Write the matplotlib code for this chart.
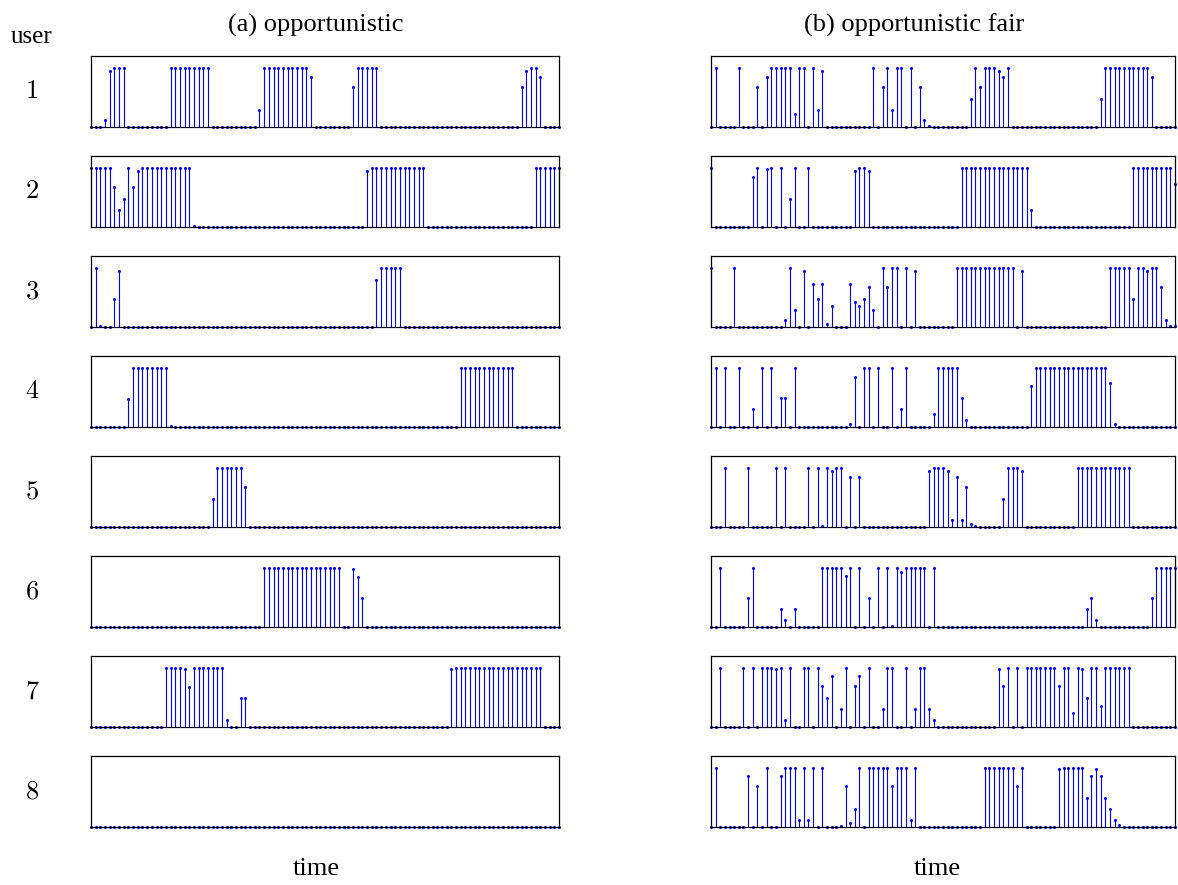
import matplotlib.pyplot as plt
import numpy as np

plt.rcParams['mathtext.fontset'] = 'cm'

# time slots 0..100, allocation per user as (first slot, values...) runs
t = np.arange(101)

opp_u1 = [(3, [0.13, 0.95, 1, 1, 1]),
          (17, [1, 1, 1, 1, 1, 1, 1, 1, 1]),
          (36, [0.29, 1, 1, 1, 1, 1, 1, 1, 1, 1, 1, 0.84]),
          (56, [0.68, 1, 1, 1, 1, 1]),
          (92, [0.68, 0.95, 1, 1, 0.84])]
opp_u2 = [(0, [1, 1, 1, 1, 1, 0.68, 0.29, 0.48, 1, 0.68, 0.95,
               1, 1, 1, 1, 1, 1, 1, 1, 1, 1, 1, 0.02]),
          (59, [0.95, 1, 1, 1, 1, 1, 1, 1, 1, 1, 1, 1, 1]),
          (95, [1, 1, 1, 1, 1, 1])]
opp_u3 = [(1, [1, 0.03]),
          (5, [0.48, 0.95]),
          (61, [0.8, 1, 1, 1, 1, 1])]
opp_u4 = [(8, [0.48, 1, 1, 1, 1, 1, 1, 1, 1, 0.03]),
          (79, [1, 1, 1, 1, 1, 1, 1, 1, 1, 1, 1, 1])]
opp_u5 = [(26, [0.48, 1, 1, 1, 1, 1, 1, 0.68])]
opp_u6 = [(37, [1, 1, 1, 1, 1, 1, 1, 1, 1, 1, 1, 1, 1, 1, 1, 1, 1]),
          (56, [0.97, 0.84, 0.49])]
opp_u7 = [(16, [1, 1, 1, 1, 0.97, 0.68, 1, 1, 1, 1, 1, 1, 1, 0.13]),
          (32, [0.49, 0.49]),
          (77, [0.97, 1, 1, 1, 1, 1, 1, 1, 1, 1, 1, 1, 1, 1, 1, 1, 1, 1, 1, 1])]
opp_u8 = []

fair_u1 = [(1, [1]), (6, [1]),
           (10, [0.68, 0, 0.84, 1, 1, 1, 1, 1, 0.23, 1, 1, 0, 1, 0.29, 0.95]),
           (35, [1, 0, 0.68, 1, 0.29, 1, 1, 0, 1, 0, 0.68, 0.12, 0.02]),
           (56, [0.48, 1, 0.68, 1, 1, 1, 0.95, 0.84, 1]),
           (84, [0.48, 1, 1, 1, 1, 1, 1, 1, 1, 1, 1, 0.84])]
fair_u2 = [(0, [1]),
           (9, [0.84, 1, 0, 0.98, 1, 0, 1, 0, 0.48, 1, 0, 0, 1]),
           (31, [0.95, 1, 1, 0.95]),
           (54, [1, 1, 1, 1, 1, 1, 1, 1, 1, 1, 1, 1, 1, 1, 1, 0.29]),
           (91, [1, 1, 1, 1, 1, 1, 1, 1, 1, 0.73])]
fair_u3 = [(0, [1]), (5, [1]),
           (16, [0.13, 1, 0.29, 0, 0.95, 0, 0.73, 0.48, 0.73, 0.06, 0.36]),
           (30, [0.73, 0.42, 0.36, 0.48, 0.68, 0.29, 0, 1, 0.68, 1, 1, 0, 1, 0, 0.95]),
           (53, [1, 1, 1, 1, 1, 1, 1, 1, 1, 1, 1, 1, 1]),
           (67, [0.95]),
           (86, [1, 1, 1, 1, 1, 0.48, 1, 1, 0.95, 1, 1, 0.68, 0.13, 0.03, 0.02])]
fair_u4 = [(1, [1]), (3, [1]), (6, [1]), (9, [0.3]), (11, [1]), (13, [1]),
           (15, [0.49, 0.49]), (18, [1]),
           (30, [0.06, 0.84, 0, 1, 1, 0, 1, 0, 0, 1, 0, 0.3, 1]),
           (48, [0.23, 1, 1, 1, 1, 1, 0.49, 0.13]),
           (69, [0.69, 1, 1, 1, 1, 1, 1, 1, 1, 1, 1, 1, 1, 1, 1, 1, 1, 0.74, 0.06])]
fair_u5 = [(3, [1]), (8, [1]), (14, [1]), (16, [1]), (21, [1]),
           (23, [1, 0.03, 1, 0.95, 1, 1, 0, 0.84, 0, 0.84]),
           (47, [0.95, 1, 1, 1, 0.95, 0.13, 0.84, 0.13, 0.68, 0.06, 0.02]),
           (63, [0.48, 1, 1, 1, 0.95]),
           (79, [1, 1, 1, 1, 1, 1, 1, 1, 1, 1, 1, 1])]
fair_u6 = [(2, [1]), (8, [0.49, 1]), (15, [0.3, 0.13, 0, 0.3]),
           (24, [1, 1, 1, 1, 1, 0.86, 1, 0, 1, 0, 0.49, 0, 1, 0, 1, 0.03,
                 1, 0.93, 1, 1, 1, 1, 1, 0, 1]),
           (81, [0.3, 0.49, 0.13]),
           (95, [0.49, 1, 1, 1, 1, 1])]
fair_u7 = [(2, [1]),
           (7, [1, 0, 1, 0, 1, 1, 1, 0.97, 1, 0.13, 1]),
           (20, [1, 1, 0, 1, 0.69, 0.49, 0.86, 0, 0.3, 1, 0, 0.69, 0.86, 0, 1,
                 0, 0, 0.3, 1, 1, 0, 0, 1, 0, 0.3, 1, 1, 0.3, 0.13]),
           (62, [0.97, 0.69, 1, 0, 1, 0, 1, 1, 1, 1, 1, 1, 1, 0.69, 1, 1, 0.24,
                 1, 0.97, 0.49, 1, 1, 0.36, 1, 1, 1, 1, 1, 1])]
fair_u8 = [(1, [1]),
           (8, [0.86, 0, 0.69, 0, 1, 0, 0, 0.86, 1, 1, 1, 0.13, 1, 0.13, 1, 0, 1]),
           (28, [0.03, 0.69, 0.07, 0.3, 1, 0, 1, 1, 1, 1, 1, 0.69, 1, 1, 1, 0.13, 1]),
           (59, [1, 1, 1, 1, 1, 1, 1, 0.69, 1]),
           (75, [0.97, 1, 1, 1, 1, 1, 0.49, 0.86, 0.97, 0.86, 0.49, 0.3, 0.13, 0.04])]

opp = [opp_u1, opp_u2, opp_u3, opp_u4, opp_u5, opp_u6, opp_u7, opp_u8]
fair = [fair_u1, fair_u2, fair_u3, fair_u4, fair_u5, fair_u6, fair_u7, fair_u8]
users = ['1', '2', '3', '4', '5', '6', '7', '8']


def expand(runs):
    y = np.zeros(len(t))
    for start, vals in runs:
        y[start:start + len(vals)] = vals
    return y


W, H = 1178, 885
fig = plt.figure(figsize=(W / 100, H / 100), dpi=100)

serif = 'Liberation Serif'
cols = [(91, 468), (711, 464)]
for i in range(8):
    top = 55.7 + 100 * i
    bot = 127.3 + 100 * i
    for c, data in enumerate([opp, fair]):
        x0, w = cols[c]
        ax = fig.add_axes([x0 / W, 1 - bot / H, w / W, (bot - top) / H])
        y = expand(data[i])
        ml, sl, bl = ax.stem(t, y, linefmt='b-', markerfmt='b.', basefmt=' ')
        ml.set_markersize(2.4)
        ml.set_clip_on(False)
        sl.set_linewidth(0.8)
        sl.set_clip_on(False)
        bl.set_visible(False)
        ax.set_xlim(0, 100)
        ax.set_ylim(0, 1.2)
        ax.set_xticks([])
        ax.set_yticks([])
        for s in ax.spines.values():
            s.set_linewidth(0.9)
    fig.text(32 / W, 1 - (top + bot) / 2 / H, '$' + users[i] + '$',
             fontsize=19, ha='center', va='center')

fig.text(32 / W, 1 - 43 / H, 'user', family=serif, fontsize=18,
         ha='center', va='baseline')
fig.text(316 / W, 1 - 32 / H, '(a) opportunistic', family=serif, fontsize=19,
         ha='center', va='baseline')
fig.text(914 / W, 1 - 32 / H, '(b) opportunistic fair', family=serif,
         fontsize=19, ha='center', va='baseline')
fig.text(316 / W, 1 - 875 / H, 'time', family=serif, fontsize=19,
         ha='center', va='baseline')
fig.text(937 / W, 1 - 875 / H, 'time', family=serif, fontsize=19,
         ha='center', va='baseline')

fig.savefig('out.png', dpi=100)
